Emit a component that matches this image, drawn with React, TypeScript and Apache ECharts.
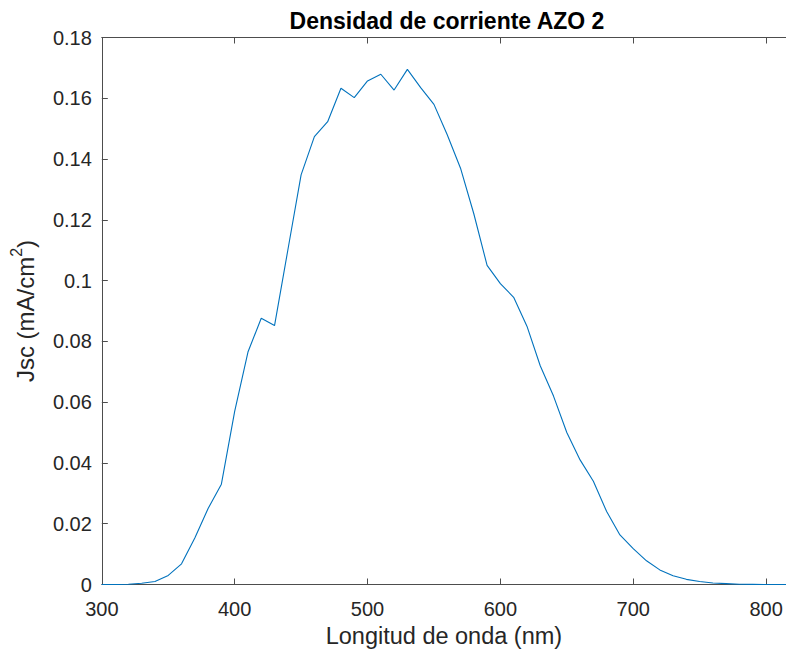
import React, { useEffect, useRef } from "react";
import * as echarts from "echarts";

const wavelengths = [
  300, 310, 320, 330, 340, 350, 360, 370, 380, 390,
  400, 410, 420, 430, 440, 450, 460, 470, 480, 490,
  500, 510, 520, 530, 540, 550, 560, 570, 580, 590,
  600, 610, 620, 630, 640, 650, 660, 670, 680, 690,
  700, 710, 720, 730, 740, 750, 760, 770, 780, 790,
  800, 810, 820,
];

const jscValues = [
  0, 0, 0.0001, 0.0004, 0.001, 0.003, 0.0068, 0.0153, 0.025, 0.033,
  0.057, 0.0765, 0.0876, 0.0852, 0.11, 0.1348, 0.1474, 0.1523, 0.1633, 0.1602,
  0.1657, 0.1679, 0.1627, 0.1695, 0.1635, 0.158, 0.148, 0.137, 0.122, 0.105,
  0.099, 0.0945, 0.085, 0.072, 0.062, 0.05, 0.041, 0.034, 0.024, 0.0163,
  0.0118, 0.0078, 0.0048, 0.0029, 0.0017, 0.001, 0.0005, 0.0003, 0.0001, 0.00005,
  0, 0, 0,
];

const titleText = "Densidad de corriente AZO 2";
const xAxisTitle = "Longitud de onda (nm)";
const xMin = 300;
const xMax = 815;
const xStep = 100;
const yMin = 0;
const yMax = 0.18;
const yStep = 0.02;

const FONT = "'Liberation Sans', Arial, Helvetica, sans-serif";

export default function App() {
  const ref = useRef<HTMLDivElement>(null);

  useEffect(() => {
    if (!ref.current) return;
    const chart = echarts.init(ref.current, null, { renderer: "svg" });
    const seriesData = wavelengths.map((w, i) => [w, jscValues[i]]);
    const axisColor = "#4d4d4d";

    chart.setOption({
      animation: false,
      backgroundColor: "#ffffff",
      title: {
        text: titleText,
        left: 447,
        top: 9,
        padding: 0,
        textAlign: "center",
        textStyle: {
          fontFamily: FONT,
          fontSize: 23,
          fontWeight: "bold",
          color: "#000000",
        },
      },
      grid: {
        left: 101.5,
        top: 37.5,
        right: 0,
        bottom: 70.5,
        containLabel: false,
      },
      xAxis: [
        {
          type: "value",
          position: "bottom",
          min: xMin,
          max: xMax,
          interval: xStep,
          name: xAxisTitle,
          nameLocation: "middle",
          nameGap: 39,
          nameTextStyle: { fontFamily: FONT, fontSize: 23.5, color: "#262626" },
          axisLine: { show: true, lineStyle: { color: axisColor, width: 1 } },
          axisTick: { show: true, inside: true, length: 6, lineStyle: { color: axisColor } },
          axisLabel: {
            margin: 14,
            fontFamily: FONT,
            fontSize: 20,
            color: "#262626",
            showMaxLabel: false,
            formatter: (v: number) => (v % 100 === 0 ? String(v) : ""),
          },
          splitLine: { show: false },
        },
        {
          type: "value",
          position: "top",
          min: xMin,
          max: xMax,
          interval: xStep,
          axisLine: { show: true, lineStyle: { color: axisColor, width: 1 } },
          axisTick: { show: true, inside: true, length: 6, lineStyle: { color: axisColor } },
          axisLabel: { show: false },
          splitLine: { show: false },
        },
      ],
      yAxis: {
        type: "value",
        min: yMin,
        max: yMax,
        interval: yStep,
        name: "{a|Jsc (mA/cm}{s|2}{a|)}",
        nameLocation: "middle",
        nameRotate: 90,
        nameGap: 50,
        nameTextStyle: {
          fontFamily: FONT,
          fontSize: 24,
          color: "#262626",
          rich: {
            a: { fontFamily: FONT, fontSize: 24, lineHeight: 24, color: "#262626" },
            s: {
              fontFamily: FONT,
              fontSize: 16,
              lineHeight: 16,
              padding: [0, 0, 18, 0],
              color: "#262626",
            },
          },
        },
        axisLine: { show: true, lineStyle: { color: axisColor, width: 1 } },
        axisTick: { show: true, inside: true, length: 6, lineStyle: { color: axisColor } },
        axisLabel: {
          margin: 10,
          fontFamily: FONT,
          fontSize: 20,
          color: "#262626",
        },
        splitLine: { show: false },
      },
      series: [
        {
          type: "line",
          data: seriesData,
          showSymbol: false,
          symbol: "none",
          smooth: false,
          lineStyle: { color: "#0072BD", width: 1.1 },
          itemStyle: { color: "#0072BD" },
        },
      ],
    });

    return () => {
      chart.dispose();
    };
  }, []);

  return (
    <div
      ref={ref}
      style={{ position: "absolute", left: 0, top: 0, width: 786, height: 655 }}
    />
  );
}
